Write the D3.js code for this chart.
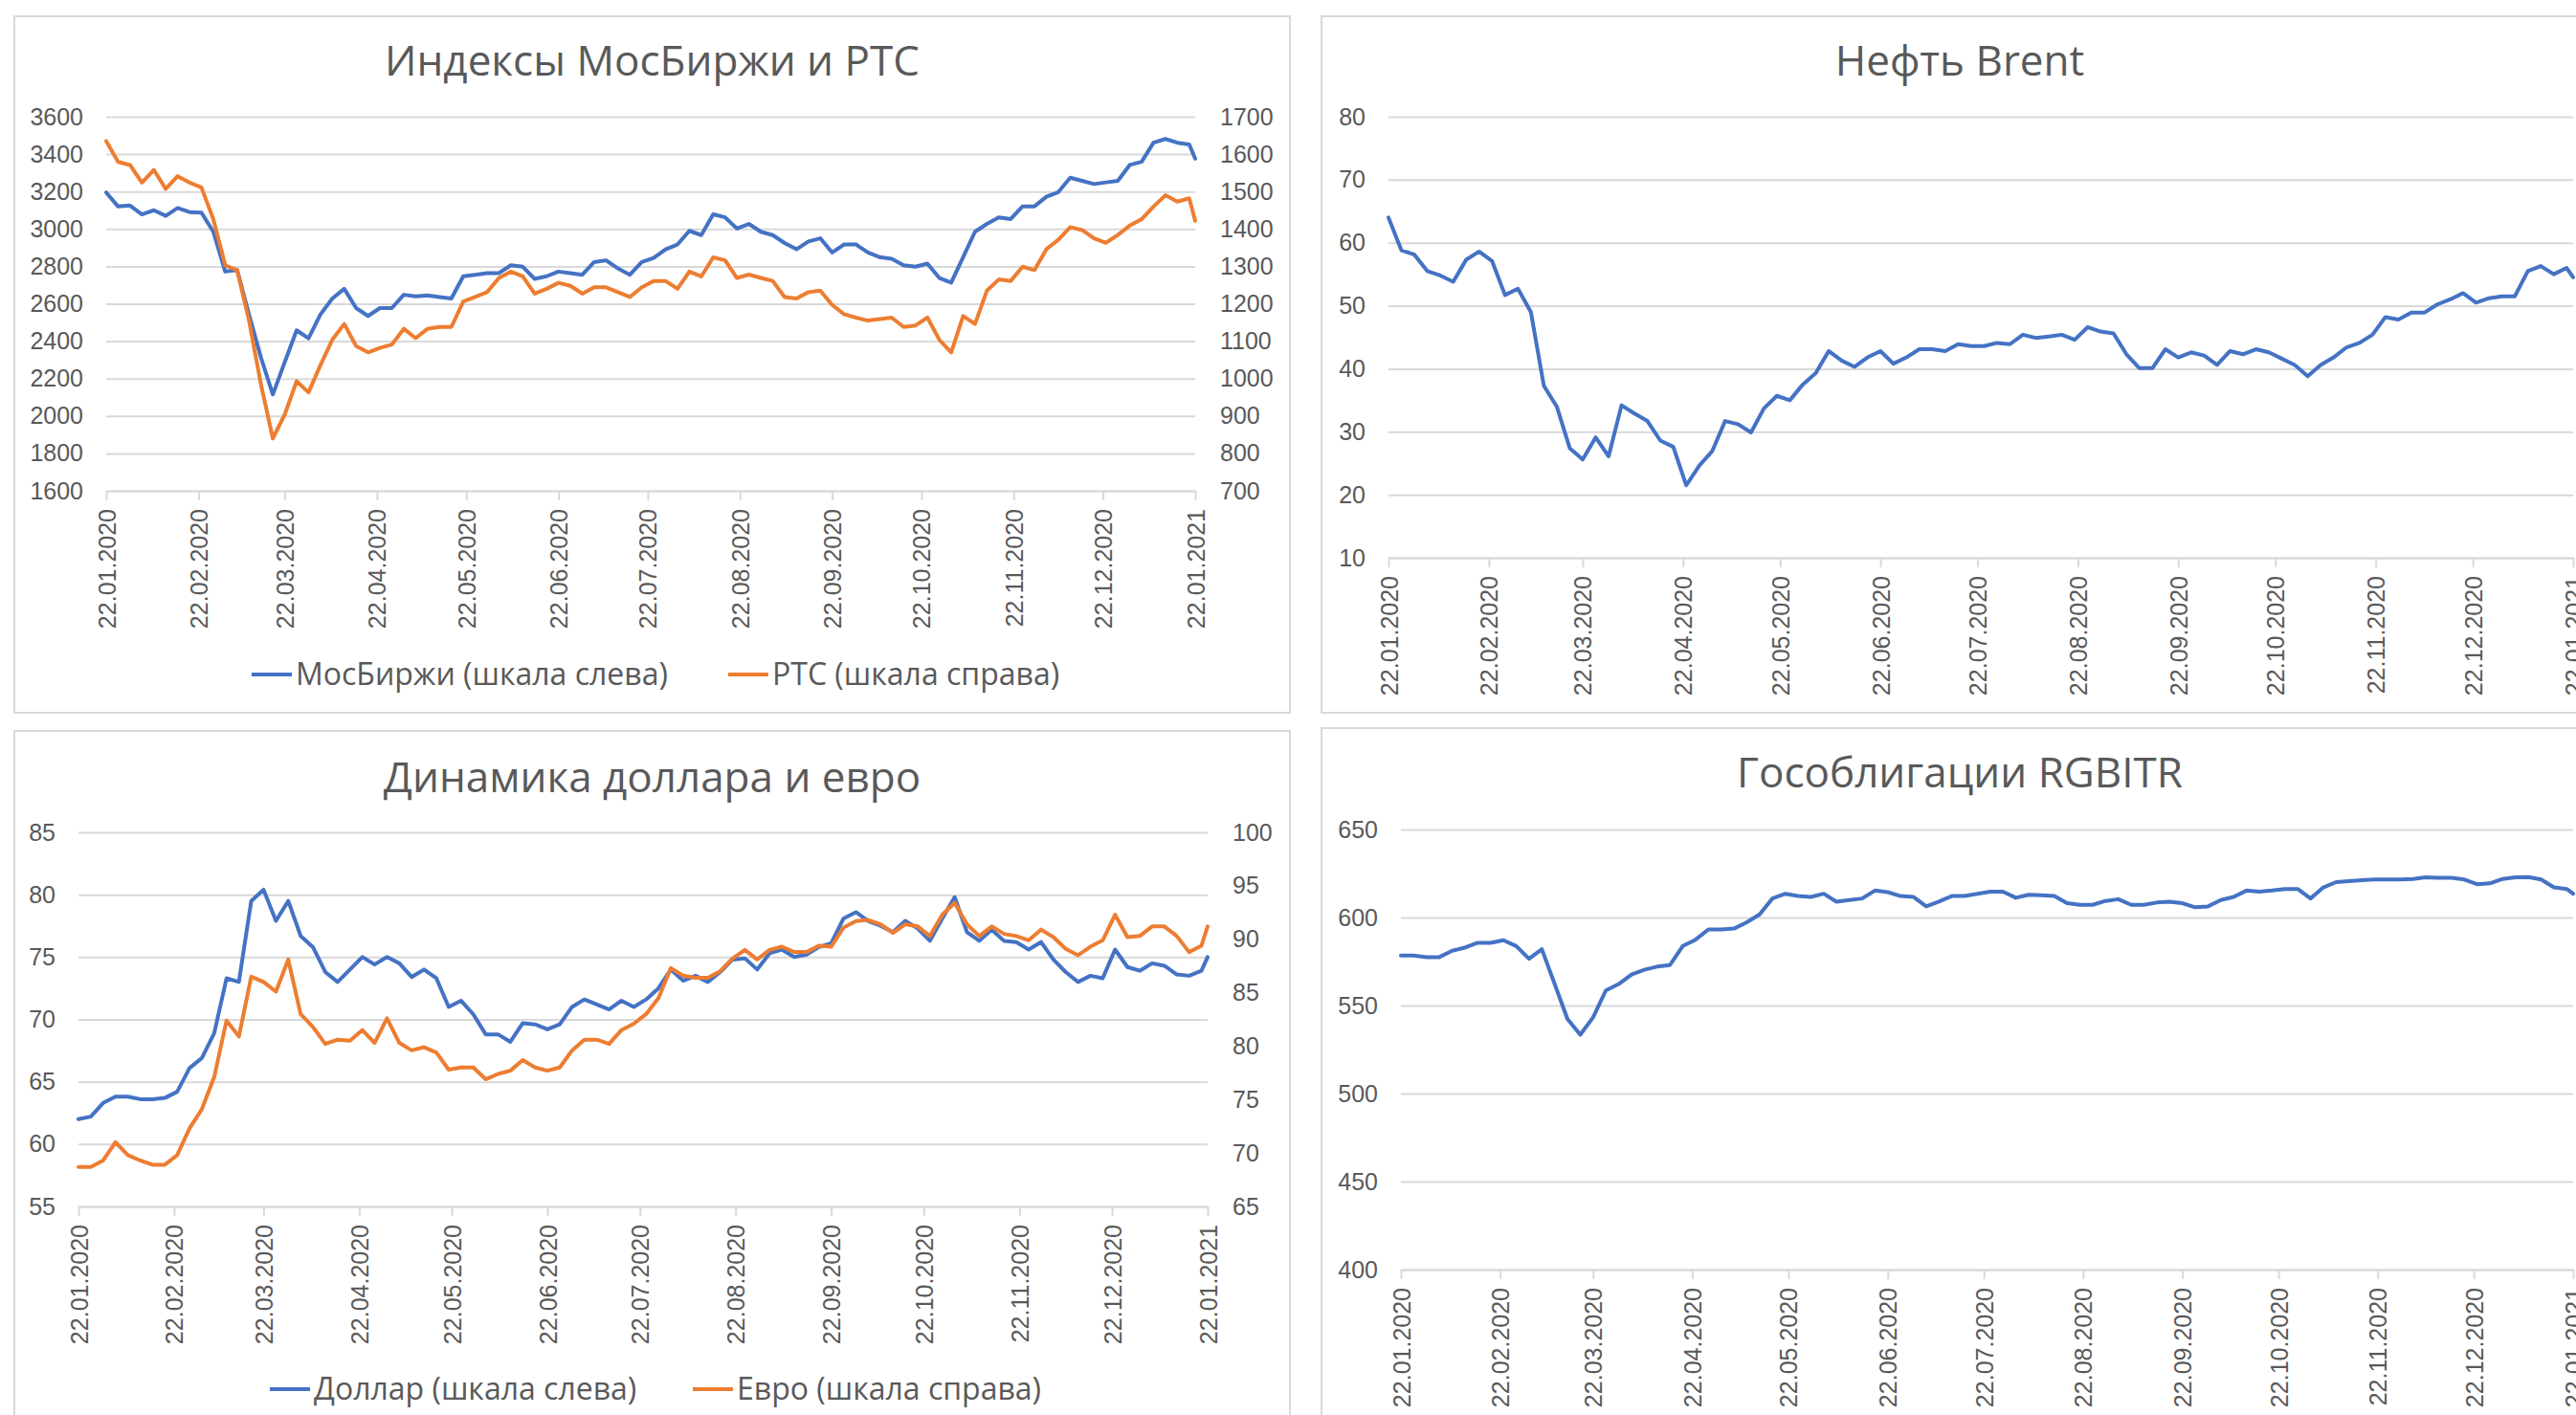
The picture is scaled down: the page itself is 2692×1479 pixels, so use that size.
<!DOCTYPE html>
<html lang="ru">
<head>
<meta charset="utf-8">
<title>Рынки 2020</title>
<script src="https://cdn.jsdelivr.net/npm/d3@7"></script>
<style>
  html, body { margin: 0; padding: 0; background: #fff; }
  svg { display: block; font-family: "Open Sans", sans-serif; }
  .title { font-size: 44px; fill: #595959; }
  .tick text { font-size: 25px; fill: #595959; }
  .legend text { font-size: 32px; fill: #595959; }
</style>
</head>
<body>
<svg id="chart" width="2692" height="1479"></svg>
<script>
// shared observation dates (every ~4 days)
const dates = [
  "22.01.2020","26.01.2020","30.01.2020","03.02.2020","07.02.2020","11.02.2020","15.02.2020","19.02.2020","23.02.2020","27.02.2020",
  "02.03.2020","06.03.2020","10.03.2020","14.03.2020","18.03.2020","22.03.2020","26.03.2020","30.03.2020",
  "03.04.2020","07.04.2020","11.04.2020","15.04.2020","19.04.2020","23.04.2020","27.04.2020",
  "01.05.2020","05.05.2020","09.05.2020","13.05.2020","17.05.2020","21.05.2020","25.05.2020","29.05.2020",
  "02.06.2020","06.06.2020","10.06.2020","14.06.2020","18.06.2020","22.06.2020","26.06.2020","30.06.2020",
  "04.07.2020","08.07.2020","12.07.2020","16.07.2020","20.07.2020","24.07.2020","28.07.2020",
  "01.08.2020","05.08.2020","09.08.2020","13.08.2020","17.08.2020","21.08.2020","25.08.2020","29.08.2020",
  "02.09.2020","06.09.2020","10.09.2020","14.09.2020","18.09.2020","22.09.2020","26.09.2020","30.09.2020",
  "04.10.2020","08.10.2020","12.10.2020","16.10.2020","20.10.2020","24.10.2020","28.10.2020",
  "01.11.2020","05.11.2020","09.11.2020","13.11.2020","17.11.2020","21.11.2020","25.11.2020","29.11.2020",
  "03.12.2020","07.12.2020","11.12.2020","15.12.2020","19.12.2020","23.12.2020","27.12.2020","31.12.2020",
  "04.01.2021","08.01.2021","12.01.2021","16.01.2021","20.01.2021","22.01.2021"
];

const moexValues = [
  3195,3120,3125,3078,3100,3070,3112,3090,3087,2985,
  2772,2780,2543,2313,2115,2288,2458,2415,
  2543,2628,2680,2577,2535,2577,2577,
  2648,2640,2645,2636,2628,2747,2755,2764,
  2764,2806,2798,2733,2747,2772,2764,2755,
  2823,2832,2789,2755,2823,2845,2891,
  2917,2990,2967,3078,3062,3002,3027,2985,
  2967,2925,2891,2933,2950,2874,2917,2917,
  2874,2849,2840,2806,2798,2815,2738,
  2713,2849,2985,3027,3062,3053,3121,3121,
  3172,3197,3274,3257,3240,3249,3257,3342,
  3359,3461,3481,3461,3452,3376
];

const rtsValues = [
  1635,1579,1571,1524,1558,1507,1541,1524,1511,1426,
  1303,1290,1155,985,840,904,993,963,
  1036,1104,1146,1087,1070,1082,1091,
  1133,1108,1133,1138,1138,1206,1218,1231,
  1269,1286,1273,1227,1240,1256,1248,1227,
  1244,1244,1231,1218,1244,1261,1261,
  1240,1286,1273,1324,1316,1269,1278,1269,
  1261,1218,1214,1231,1235,1197,1172,1163,
  1155,1159,1163,1138,1142,1163,1104,
  1070,1167,1146,1235,1265,1261,1299,1290,
  1346,1371,1405,1397,1375,1363,1384,1409,
  1426,1460,1490,1473,1482,1422
];

const brentValues = [
  64.0,58.8,58.1,55.5,54.8,53.8,57.3,58.6,57.1,51.7,
  52.7,49.0,37.3,34.0,27.4,25.6,29.1,26.1,
  34.2,32.9,31.7,28.6,27.6,21.5,24.6,
  26.9,31.7,31.2,29.9,33.7,35.7,35.0,37.5,
  39.3,42.8,41.3,40.3,41.8,42.8,40.8,41.8,
  43.1,43.1,42.8,43.9,43.6,43.6,44.1,
  43.9,45.4,44.9,45.1,45.4,44.6,46.6,45.9,
  45.6,42.3,40.1,40.1,43.1,41.8,42.6,42.1,
  40.6,42.8,42.3,43.1,42.6,41.6,40.6,
  38.8,40.6,41.8,43.4,44.1,45.4,48.2,47.8,
  48.9,48.9,50.2,51.0,52.0,50.5,51.2,51.5,
  51.5,55.5,56.3,55.0,56.0,54.5
];

const usdValues = [
  62.0,62.2,63.3,63.8,63.8,63.6,63.6,63.7,64.2,66.1,
  66.9,68.9,73.3,73.0,79.5,80.4,77.9,79.5,
  76.7,75.8,73.8,73.0,74.0,75.0,74.4,
  75.0,74.5,73.4,74.0,73.3,71.0,71.5,70.4,
  68.8,68.8,68.2,69.7,69.6,69.2,69.6,71.0,
  71.6,71.2,70.8,71.5,71.0,71.6,72.5,
  74.0,73.1,73.5,73.0,73.8,74.8,74.9,74.0,
  75.3,75.6,75.0,75.2,75.8,76.1,78.1,78.6,
  77.9,77.5,77.0,77.9,77.3,76.3,78.1,
  79.8,77.0,76.3,77.2,76.3,76.2,75.6,76.2,
  74.8,73.8,73.0,73.5,73.3,75.6,74.2,73.9,
  74.5,74.3,73.6,73.5,73.9,75.0
];

const eurValues = [
  68.7,68.7,69.3,71.0,69.8,69.3,68.9,68.9,69.8,72.3,
  74.1,77.1,82.4,80.9,86.5,86.0,85.1,88.1,
  83.0,81.8,80.2,80.6,80.5,81.5,80.3,
  82.6,80.3,79.6,79.9,79.4,77.8,78.0,78.0,
  76.9,77.4,77.7,78.7,78.0,77.7,78.0,79.6,
  80.6,80.6,80.2,81.5,82.1,83.0,84.5,
  87.3,86.6,86.4,86.4,87.0,88.2,89.0,88.1,
  89.0,89.3,88.8,88.8,89.4,89.3,91.1,91.7,
  91.8,91.4,90.6,91.4,91.2,90.3,92.3,
  93.4,91.4,90.3,91.2,90.5,90.3,89.9,90.9,
  90.2,89.1,88.5,89.3,89.9,92.3,90.2,90.3,
  91.2,91.2,90.3,88.8,89.4,91.2
];

const rgbiValues = [
  578.4,578.4,577.5,577.5,581.1,582.9,585.6,585.6,587.1,583.8,
  576.6,582.0,562.2,542.4,533.4,543.3,558.6,562.2,
  567.6,570.3,572.1,573.0,583.8,587.4,593.2,
  593.2,593.7,597.3,601.8,610.8,613.5,612.2,611.7,
  613.5,609.0,609.9,610.8,615.3,614.4,612.2,611.7,
  606.3,609.0,612.2,612.2,613.5,614.7,614.7,
  611.2,612.9,612.6,612.2,608.1,607.2,607.2,609.4,
  610.4,607.2,607.2,608.5,609.0,608.1,605.8,606.3,
  609.9,611.7,615.3,614.7,615.3,616.2,616.2,
  610.8,617.1,620.1,620.7,621.2,621.6,621.6,621.6,
  621.9,622.8,622.5,622.5,621.6,618.9,619.4,621.9,
  622.8,623.0,621.6,617.1,616.2,613.5
];

// axis ticks
const monthTicks = [
  "22.01.2020","22.02.2020","22.03.2020","22.04.2020","22.05.2020","22.06.2020","22.07.2020",
  "22.08.2020","22.09.2020","22.10.2020","22.11.2020","22.12.2020","22.01.2021"
];
const moexTicks = [1600, 1800, 2000, 2200, 2400, 2600, 2800, 3000, 3200, 3400, 3600];
const rtsTicks = [700, 800, 900, 1000, 1100, 1200, 1300, 1400, 1500, 1600, 1700];
const brentTicks = [10, 20, 30, 40, 50, 60, 70, 80];
const usdTicks = [55, 60, 65, 70, 75, 80, 85];
const eurTicks = [65, 70, 75, 80, 85, 90, 95, 100];
const rgbiTicks = [400, 450, 500, 550, 600, 650];

const BLUE = "#4472C4", ORANGE = "#ED7D31", GRID = "#D9D9D9";

const parseDate = d3.timeParse("%d.%m.%Y");
const formatDate = d3.timeFormat("%d.%m.%Y");
const formatNum = d3.format("d");
const dateObjs = dates.map(parseDate);
const monthDates = monthTicks.map(parseDate);

const svg = d3.select("#chart");

const drawPanel = cfg => {
  const g = svg.append("g");
  const { left, right, top, bottom } = cfg.plot;

  g.append("rect")
    .attr("x", cfg.box.x).attr("y", cfg.box.y)
    .attr("width", cfg.box.w).attr("height", cfg.box.h)
    .attr("fill", "#fff").attr("stroke", GRID).attr("stroke-width", 2);

  g.append("text")
    .attr("class", "title")
    .attr("x", cfg.box.x + cfg.box.w / 2)
    .attr("y", cfg.titleY)
    .attr("dy", "0.35em")
    .attr("text-anchor", "middle")
    .text(cfg.title);

  const x = d3.scaleTime()
    .domain(d3.extent(monthDates))
    .range([left, right]);

  const yLeft = d3.scaleLinear()
    .domain(d3.extent(cfg.leftTicks))
    .range([bottom, top]);

  // gridlines
  g.append("g")
    .attr("transform", `translate(${left},0)`)
    .call(d3.axisLeft(yLeft).tickValues(cfg.leftTicks).tickSize(-(right - left)).tickFormat(""))
    .call(a => a.select(".domain").remove())
    .call(a => a.selectAll("line").attr("stroke", GRID).attr("stroke-width", 2));

  g.append("g")
    .attr("transform", `translate(${left},0)`)
    .call(d3.axisLeft(yLeft).tickValues(cfg.leftTicks).tickSize(0).tickPadding(24).tickFormat(formatNum))
    .call(a => a.select(".domain").remove());

  let yRight = null;
  if (cfg.rightTicks) {
    yRight = d3.scaleLinear()
      .domain(d3.extent(cfg.rightTicks))
      .range([bottom, top]);
    g.append("g")
      .attr("transform", `translate(${right},0)`)
      .call(d3.axisRight(yRight).tickValues(cfg.rightTicks).tickSize(0).tickPadding(26).tickFormat(formatNum))
      .call(a => a.select(".domain").remove());
  }

  // date axis
  g.append("g")
    .attr("transform", `translate(0,${bottom})`)
    .call(d3.axisBottom(x).tickValues(monthDates).tickSize(10).tickSizeOuter(0).tickFormat(formatDate))
    .call(a => a.select(".domain").attr("stroke", GRID).attr("stroke-width", 2))
    .call(a => a.selectAll(".tick line").attr("stroke", GRID).attr("stroke-width", 2))
    .call(a => a.selectAll(".tick text")
      .attr("transform", "rotate(-90)")
      .attr("x", -19)
      .attr("y", 0)
      .attr("dy", "0.36em")
      .attr("text-anchor", "end"));

  cfg.series.forEach(s => {
    const yScale = s.axis === "right" ? yRight : yLeft;
    const line = d3.line()
      .x((d, i) => x(dateObjs[i]))
      .y(d => yScale(d));
    g.append("path")
      .datum(s.values)
      .attr("d", line)
      .attr("fill", "none")
      .attr("stroke", s.color)
      .attr("stroke-width", 4)
      .attr("stroke-linejoin", "round")
      .attr("stroke-linecap", "round");
  });

  if (cfg.legend) {
    const lg = g.append("g").attr("class", "legend");
    cfg.legend.forEach((item, i) => {
      const s = cfg.series[i];
      lg.append("line")
        .attr("x1", item.x).attr("x2", item.x + 42)
        .attr("y1", cfg.legendY).attr("y2", cfg.legendY)
        .attr("stroke", s.color).attr("stroke-width", 4);
      lg.append("text")
        .attr("x", item.x + 46)
        .attr("y", cfg.legendY)
        .attr("dy", "0.35em")
        .text(s.name);
    });
  }
};

drawPanel({
  box: { x: 15, y: 17, w: 1333, h: 728 },
  plot: { left: 111, right: 1249, top: 122, bottom: 513 },
  title: "Индексы МосБиржи и РТС",
  titleY: 64,
  leftTicks: moexTicks,
  rightTicks: rtsTicks,
  series: [
    { name: "МосБиржи (шкала слева)", values: moexValues, color: BLUE, axis: "left" },
    { name: "РТС (шкала справа)", values: rtsValues, color: ORANGE, axis: "right" }
  ],
  legendY: 705,
  legend: [{ x: 263 }, { x: 761 }]
});

drawPanel({
  box: { x: 1381, y: 17, w: 1334, h: 728 },
  plot: { left: 1451, right: 2689, top: 122, bottom: 583 },
  title: "Нефть Brent",
  titleY: 64,
  leftTicks: brentTicks,
  series: [
    { name: "Brent", values: brentValues, color: BLUE, axis: "left" }
  ]
});

drawPanel({
  box: { x: 15, y: 764, w: 1333, h: 740 },
  plot: { left: 82, right: 1262, top: 870, bottom: 1261 },
  title: "Динамика доллара и евро",
  titleY: 813,
  leftTicks: usdTicks,
  rightTicks: eurTicks,
  series: [
    { name: "Доллар (шкала слева)", values: usdValues, color: BLUE, axis: "left" },
    { name: "Евро (шкала справа)", values: eurValues, color: ORANGE, axis: "right" }
  ],
  legendY: 1452,
  legend: [{ x: 282 }, { x: 724 }]
});

drawPanel({
  box: { x: 1381, y: 761, w: 1334, h: 740 },
  plot: { left: 1464, right: 2689, top: 867, bottom: 1327 },
  title: "Гособлигации RGBITR",
  titleY: 808,
  leftTicks: rgbiTicks,
  series: [
    { name: "RGBITR", values: rgbiValues, color: BLUE, axis: "left" }
  ]
});
</script>
</body>
</html>
